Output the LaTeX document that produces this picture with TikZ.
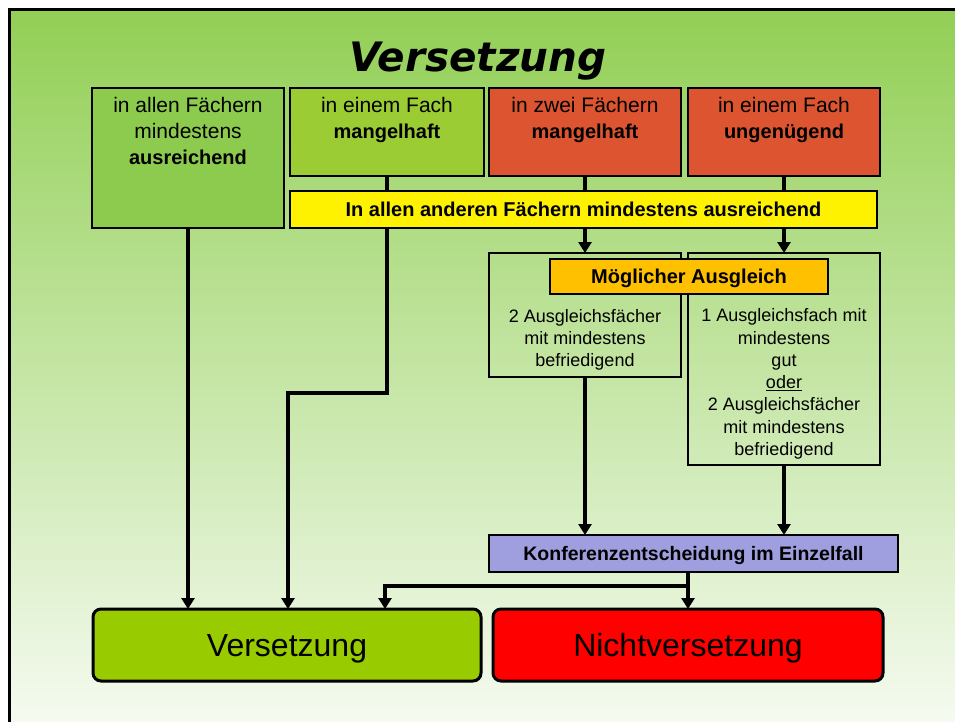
\documentclass[tikz,border=0pt]{standalone}
\usepackage{fontspec}
\setmainfont{Liberation Sans}
\newfontfamily\titlefont{DejaVu Sans}
\usetikzlibrary{arrows.meta}
\definecolor{bgtop}{HTML}{92CF55}
\definecolor{bgbot}{HTML}{F6FBF2}
\definecolor{boxone}{HTML}{8DCB4E}
\definecolor{boxtwo}{HTML}{9CCC34}
\definecolor{redbox}{HTML}{DC5430}
\definecolor{orbox}{HTML}{FFC000}
\definecolor{konfbox}{HTML}{9F9FDF}
\definecolor{versbox}{HTML}{99CC00}
\begin{document}
\begin{tikzpicture}[x=1pt,y=-1pt,
  box/.style={draw=black, line width=2pt, inner sep=0pt, outer sep=0pt, anchor=north west},
  bar/.style={box, anchor=center, text depth=0pt, font=\bfseries\fontsize{20}{24}\selectfont},
  txt/.style={anchor=north, inner sep=0pt, align=center, font=\fontsize{21}{26}\selectfont},
  stxt/.style={anchor=north, inner sep=0pt, align=center, font=\fontsize{18}{22.3}\selectfont},
  endbox/.style={draw=black, line width=3pt, rounded corners=8pt, inner sep=0pt, outer sep=0pt,
    anchor=north west, minimum width=388pt, minimum height=72pt, text depth=0pt,
    font=\fontsize{32}{38}\selectfont},
  ln/.style={line width=3.5pt},
  arr/.style={line width=3.5pt, -{Triangle[width=13pt,length=11pt]}}
]
\useasboundingbox (0,0) rectangle (955,722);
\fill[white] (0,0) rectangle (955,722);
\shade[top color=bgtop, bottom color=bgbot] (8,9) rectangle (960,730);
\draw[line width=3pt] (9,730) -- (9,10) -- (960,10);

\node[anchor=base, inner sep=0pt, font=\titlefont\bfseries\itshape\fontsize{40.5}{48}\selectfont] (title) at (478,72) {Versetzung};

% top boxes
\node[box, fill=boxone, minimum width=192pt, minimum height=140pt] (b1) at (92,88) {};
\node[box, fill=boxtwo, minimum width=194pt, minimum height=88pt] (b2) at (290,88) {};
\node[box, fill=redbox, minimum width=192pt, minimum height=88pt] (b3) at (489,88) {};
\node[box, fill=redbox, minimum width=192pt, minimum height=88pt] (b4) at (688,88) {};
\node[txt] (t1) at (188,97) {in allen Fächern\\mindestens\\\textbf{\fontsize{20}{26}\selectfont ausreichend}};
\node[txt] (t2) at (387,97) {in einem Fach\\\textbf{\fontsize{20}{26}\selectfont mangelhaft}};
\node[txt] (t3) at (585,97) {in zwei Fächern\\\textbf{\fontsize{20}{26}\selectfont mangelhaft}};
\node[txt] (t4) at (784,97) {in einem Fach\\\textbf{\fontsize{20}{26}\selectfont ungenügend}};

% yellow bar
\node[bar, fill=yellow, minimum width=587pt, minimum height=37pt] (yel) at (583.5,209.5) {In allen anderen Fächern mindestens ausreichend};

% Ausgleich boxes
\node[box, minimum width=192pt, minimum height=124pt] (b5) at (489,253) {};
\node[box, minimum width=192pt, minimum height=212pt] (b6) at (688,253) {};
\node[stxt] (t5) at (585,309) {2 Ausgleichsfächer\\mit mindestens\\befriedigend};
\node[stxt] (t6) at (784,308.5) {1 Ausgleichsfach mit\\mindestens\\gut\\\underline{oder}\\2 Ausgleichsfächer\\mit mindestens\\befriedigend};
\node[bar, fill=orbox, minimum width=278pt, minimum height=35pt] (mog) at (689,276.5) {Möglicher Ausgleich};

% Konferenz
\node[bar, fill=konfbox, minimum width=409pt, minimum height=37pt, font=\bfseries\fontsize{19.5}{23}\selectfont] (konf) at (693.5,553.5) {Konferenzentscheidung im Einzelfall};

% end boxes
\node[endbox, fill=versbox] (vers) at (93,609) {Versetzung};
\node[endbox, fill=red, minimum width=390pt] (nicht) at (493,609) {Nichtversetzung};

% connectors
\draw[ln] (b2.south) -- (b2.south |- yel.north);
\draw[ln] (b3.south) -- (b3.south |- yel.north);
\draw[ln] (b4.south) -- (b4.south |- yel.north);
\draw[arr] (b3.south |- yel.south) -- (b5.north);
\draw[arr] (b4.south |- yel.south) -- (b6.north);
\draw[arr] (b1.south) -- (b1.south |- vers.north);
\coordinate (k2) at (288,393);
\draw[arr] (b2.south |- yel.south) |- (k2) -- (k2 |- vers.north);
\draw[arr] (b5.south) -- (b5.south |- konf.north);
\draw[arr] (b6.south) -- (b6.south |- konf.north);
\draw[arr] (nicht.north |- konf.south) -- (nicht.north);
\coordinate (split) at (688,586);
\coordinate (k3) at (385,586);
\draw[arr] (split) -- (k3) -- (k3 |- vers.north);
\end{tikzpicture}
\end{document}
